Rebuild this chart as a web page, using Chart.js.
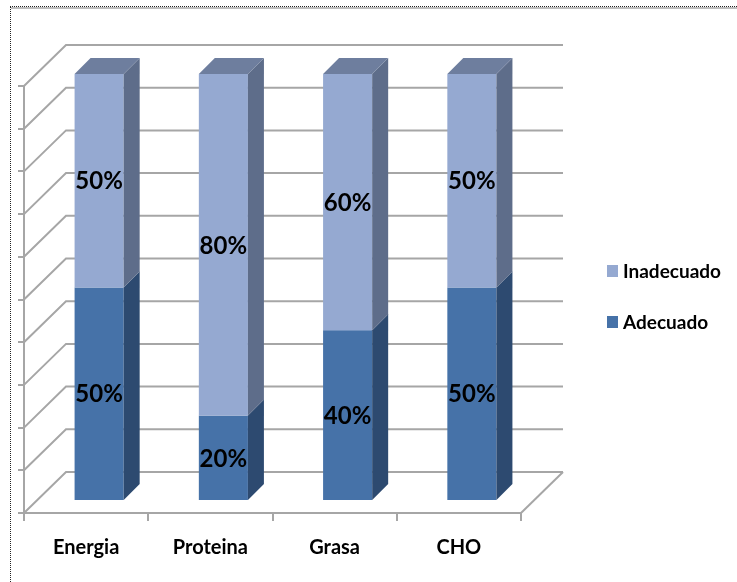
<!DOCTYPE html>
<html>
<head>
<meta charset="utf-8">
<script src="https://cdn.jsdelivr.net/npm/chart.js@4"></script>
<style>
  body { margin: 0; background: #fff; }
  #wrap { position: relative; width: 737px; height: 582px; }
  #frame {
    position: absolute; left: 10px; top: 6px; right: 0; bottom: 0;
    border-top: 1px dotted #222; border-left: 1px dotted #222;
    box-shadow: inset 0 2px 0 #bdbdbd;
    pointer-events: none;
  }
</style>
</head>
<body>
<div id="wrap">
  <canvas id="chart" width="737" height="582"></canvas>
  <div id="frame"></div>
</div>
<script>
// datos
const categories = ['Energia', 'Proteina', 'Grasa', 'CHO'];
const adecuado = [50, 20, 40, 50];
const inadecuado = [50, 80, 60, 50];
const yMax = 100;
const yStep = 10;

const FONT = 'Lato, "Noto Sans", sans-serif';
const GRID = '#a6a6a6';

// caras de cada serie: frente, lado, arriba
const faces = {
  Adecuado: { front: '#4672a8', side: '#2d4a70', top: '#5a79a3' },
  Inadecuado: { front: '#95a9d1', side: '#5e6d8a', top: '#6e7e9e' }
};

// profundidad del "piso" y de las barras
const WALL = { dx: 42, dy: 41 };
const BAR = { ox: 13, oy: 12, d: 16 };

const walls3d = {
  id: 'walls3d',
  beforeDatasetsDraw(chart) {
    const { ctx, chartArea: a, scales: { y } } = chart;
    ctx.save();
    ctx.strokeStyle = GRID;
    ctx.lineWidth = 2;
    for (let v = 0; v <= yMax; v += yStep) {
      const py = y.getPixelForValue(v);
      ctx.beginPath();
      ctx.moveTo(a.left, py);
      ctx.lineTo(a.left + WALL.dx, py - WALL.dy);
      ctx.lineTo(a.right + WALL.dx, py - WALL.dy);
      ctx.stroke();
    }
    // borde derecho del piso
    const p0 = y.getPixelForValue(0);
    ctx.beginPath();
    ctx.moveTo(a.right, p0);
    ctx.lineTo(a.right + WALL.dx, p0 - WALL.dy);
    ctx.stroke();
    ctx.restore();
  }
};

const bars3d = {
  id: 'bars3d',
  afterDatasetsDraw(chart) {
    const ctx = chart.ctx;
    const n = chart.data.datasets.length;
    chart.data.datasets.forEach((ds, i) => {
      const f = faces[ds.label];
      chart.getDatasetMeta(i).data.forEach((bar, j) => {
        const p = bar.getProps(['x', 'y', 'base', 'width'], true);
        const l = p.x - p.width / 2 + BAR.ox;
        const r = p.x + p.width / 2 + BAR.ox;
        const t = p.y - BAR.oy;
        const b = p.base - BAR.oy;
        // frente
        ctx.fillStyle = f.front;
        ctx.fillRect(l, t, r - l, b - t);
        // lado
        ctx.fillStyle = f.side;
        ctx.beginPath();
        ctx.moveTo(r, t);
        ctx.lineTo(r + BAR.d, t - BAR.d);
        ctx.lineTo(r + BAR.d, b - BAR.d);
        ctx.lineTo(r, b);
        ctx.closePath();
        ctx.fill();
        // arriba
        if (i === n - 1) {
          ctx.fillStyle = f.top;
          ctx.beginPath();
          ctx.moveTo(l, t);
          ctx.lineTo(l + BAR.d, t - BAR.d);
          ctx.lineTo(r + BAR.d, t - BAR.d);
          ctx.lineTo(r, t);
          ctx.closePath();
          ctx.fill();
        }
      });
    });
    // etiquetas
    ctx.save();
    ctx.font = 'bold 24px ' + FONT;
    ctx.fillStyle = '#000';
    ctx.textAlign = 'center';
    ctx.textBaseline = 'middle';
    chart.data.datasets.forEach((ds, i) => {
      chart.getDatasetMeta(i).data.forEach((bar, j) => {
        const p = bar.getProps(['x', 'y', 'base'], true);
        ctx.fillText(ds.data[j] + '%', p.x + BAR.ox, (p.y + p.base) / 2 - BAR.oy + 1);
      });
    });
    ctx.restore();
  }
};

const legendRight = {
  id: 'legendRight',
  afterDraw(chart) {
    const ctx = chart.ctx;
    const items = chart.data.datasets.slice().reverse();
    ctx.save();
    ctx.font = 'bold 19px ' + FONT;
    ctx.textBaseline = 'middle';
    items.forEach((ds, k) => {
      const cy = 271 + k * 51;
      ctx.fillStyle = faces[ds.label].front;
      ctx.fillRect(607, cy - 6, 11, 12);
      ctx.fillStyle = '#000';
      ctx.fillText(ds.label, 623, cy + 1);
    });
    ctx.restore();
  }
};

new Chart(document.getElementById('chart'), {
  type: 'bar',
  data: {
    labels: categories,
    datasets: [
      { label: 'Adecuado', data: adecuado, backgroundColor: 'rgba(0,0,0,0)' },
      { label: 'Inadecuado', data: inadecuado, backgroundColor: 'rgba(0,0,0,0)' }
    ]
  },
  options: {
    responsive: false,
    animation: false,
    events: [],
    layout: { padding: { left: 0, top: 86, right: 216, bottom: 0 } },
    datasets: { bar: { categoryPercentage: 1, barPercentage: 0.395 } },
    plugins: { legend: { display: false }, tooltip: { enabled: false } },
    scales: {
      x: {
        stacked: true,
        grid: { drawOnChartArea: false, tickLength: 8, color: GRID, lineWidth: 2 },
        border: { color: GRID, width: 2 },
        ticks: { color: '#000', font: { family: FONT, size: 20, weight: 'bold' }, padding: 15 },
        afterFit(s) { s.height = 582 - 513; }
      },
      y: {
        stacked: true,
        min: 0,
        max: yMax,
        ticks: { stepSize: yStep, display: false },
        grid: { drawOnChartArea: false, tickLength: 6, color: GRID, lineWidth: 2 },
        border: { color: GRID, width: 2 },
        afterFit(s) { s.width = 24; }
      }
    }
  },
  plugins: [walls3d, bars3d, legendRight]
});
</script>
</body>
</html>
